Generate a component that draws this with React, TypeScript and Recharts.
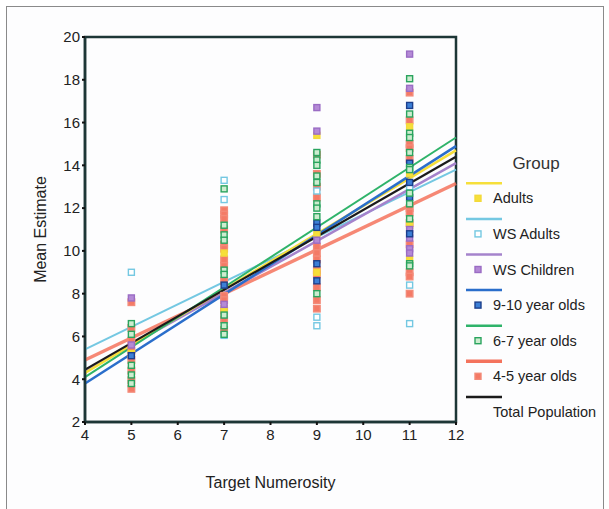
import React from 'react';
import { ScatterChart, Scatter, XAxis, YAxis, ReferenceLine, ReferenceArea, Legend } from 'recharts';

// group names as shown in the legend
const groupNames = ['Adults', 'WS Adults', 'WS Children', '9-10 year olds', '6-7 year olds', '4-5 year olds', 'Total Population'];

// regression fit values at x = 4 and x = 12
const fitAt4 = [4.3, 5.4, 4.4, 3.8, 4.1, 4.9, 4.45];
const fitAt12 = [14.7, 13.8, 14.1, 14.9, 15.3, 13.15, 14.4];

const xTicks = [4, 5, 6, 7, 8, 9, 10, 11, 12];
const yTicks = [2, 4, 6, 8, 10, 12, 14, 16, 18, 20];

// individual mean estimates per group
const adultsPts = [
  { x: 5, y: 5.2 }, { x: 7, y: 9.9 }, { x: 7, y: 7.3 },
  { x: 9, y: 15.4 }, { x: 9, y: 10.8 }, { x: 9, y: 9.0 },
  { x: 11, y: 15.8 }, { x: 11, y: 13.6 }, { x: 11, y: 9.6 }, { x: 11, y: 11.2 },
];
const wsAdultsPts = [
  { x: 5, y: 9.0 },
  { x: 7, y: 13.3 }, { x: 7, y: 12.4 }, { x: 7, y: 6.05 },
  { x: 9, y: 12.8 }, { x: 9, y: 6.9 }, { x: 9, y: 6.5 },
  { x: 11, y: 13.0 }, { x: 11, y: 8.4 }, { x: 11, y: 6.6 },
];
const wsChildrenPts = [
  { x: 5, y: 7.8 }, { x: 5, y: 5.6 },
  { x: 7, y: 7.5 },
  { x: 9, y: 16.7 }, { x: 9, y: 15.6 }, { x: 9, y: 10.5 },
  { x: 11, y: 19.2 }, { x: 11, y: 17.6 }, { x: 11, y: 11.0 }, { x: 11, y: 10.6 }, { x: 11, y: 10.1 }, { x: 11, y: 9.9 },
];
const nineTenPts = [
  { x: 5, y: 5.1 },
  { x: 7, y: 8.4 },
  { x: 9, y: 11.3 }, { x: 9, y: 11.1 }, { x: 9, y: 9.4 }, { x: 9, y: 8.6 },
  { x: 11, y: 16.8 }, { x: 11, y: 14.1 }, { x: 11, y: 13.2 }, { x: 11, y: 12.5 }, { x: 11, y: 10.8 },
];
const sixSevenPts = [
  { x: 5, y: 6.6 }, { x: 5, y: 6.1 }, { x: 5, y: 4.65 }, { x: 5, y: 4.2 }, { x: 5, y: 3.8 },
  { x: 7, y: 12.9 }, { x: 7, y: 11.2 }, { x: 7, y: 10.75 }, { x: 7, y: 10.5 }, { x: 7, y: 9.1 },
  { x: 7, y: 8.9 }, { x: 7, y: 7.0 }, { x: 7, y: 6.5 }, { x: 7, y: 6.1 },
  { x: 9, y: 14.6 }, { x: 9, y: 14.25 }, { x: 9, y: 14.0 }, { x: 9, y: 13.5 }, { x: 9, y: 13.2 },
  { x: 9, y: 12.2 }, { x: 9, y: 12.0 }, { x: 9, y: 11.6 }, { x: 9, y: 8.0 },
  { x: 11, y: 18.05 }, { x: 11, y: 16.4 }, { x: 11, y: 15.5 }, { x: 11, y: 15.3 }, { x: 11, y: 14.6 },
  { x: 11, y: 13.9 }, { x: 11, y: 13.8 }, { x: 11, y: 12.7 }, { x: 11, y: 12.2 }, { x: 11, y: 11.5 },
  { x: 11, y: 9.4 }, { x: 11, y: 9.3 },
];
const fourFivePts = [
  { x: 5, y: 7.6 }, { x: 5, y: 6.4 }, { x: 5, y: 5.8 }, { x: 5, y: 5.35 }, { x: 5, y: 4.9 },
  { x: 5, y: 4.4 }, { x: 5, y: 3.95 }, { x: 5, y: 3.55 },
  { x: 7, y: 11.9 }, { x: 7, y: 11.7 }, { x: 7, y: 11.5 }, { x: 7, y: 11.0 }, { x: 7, y: 10.3 },
  { x: 7, y: 10.1 }, { x: 7, y: 9.6 }, { x: 7, y: 9.3 }, { x: 7, y: 8.6 }, { x: 7, y: 7.9 },
  { x: 7, y: 7.7 }, { x: 7, y: 7.2 }, { x: 7, y: 6.8 }, { x: 7, y: 6.3 },
  { x: 9, y: 14.5 }, { x: 9, y: 13.6 }, { x: 9, y: 13.0 }, { x: 9, y: 12.5 }, { x: 9, y: 10.2 },
  { x: 9, y: 9.9 }, { x: 9, y: 9.6 }, { x: 9, y: 9.1 }, { x: 9, y: 8.9 }, { x: 9, y: 8.3 },
  { x: 9, y: 7.7 }, { x: 9, y: 7.3 },
  { x: 11, y: 17.4 }, { x: 11, y: 16.1 }, { x: 11, y: 15.0 }, { x: 11, y: 14.8 }, { x: 11, y: 14.3 },
  { x: 11, y: 12.0 }, { x: 11, y: 11.8 }, { x: 11, y: 11.3 }, { x: 11, y: 10.3 }, { x: 11, y: 9.0 },
  { x: 11, y: 8.8 }, { x: 11, y: 8.0 },
];

const groupPoints = [adultsPts, wsAdultsPts, wsChildrenPts, nineTenPts, sixSevenPts, fourFivePts];

// styling
const lineColors = ['#f6df3a', '#74c8e2', '#a583cc', '#2a6ecb', '#2fb36a', '#f4735d', '#1b1b1b'];
const lineWidths = [2.5, 2, 2.5, 2.5, 2, 3.5, 2.2];
const markerFill = ['#f6df3a', '#ffffff', '#b48ad6', '#3c7fd6', '#cdeccf', '#f47a66'];
const markerStroke = ['#f3d93a', '#74c8e2', '#9a6cc4', '#1c3f8c', '#2aa45e', '#f38a78'];
const lineOrder = [5, 1, 2, 0, 4, 3, 6];
const pointOrder = [5, 0, 1, 2, 3, 4];

const square = (fill: string, stroke: string, size: number) => (props: any) => {
  const { cx, cy } = props;
  if (cx == null || cy == null) return <g />;
  return <rect x={cx - size / 2} y={cy - size / 2} width={size} height={size} fill={fill} stroke={stroke} strokeWidth={1.4} />;
};

const font = 'Arial, "Liberation Sans", Helvetica, sans-serif';

function GroupLegend() {
  return (
    <svg width={149} height={290} style={{ display: 'block', fontFamily: font }}>
      <text x={76} y={23} fontSize={17} fill="#333" textAnchor="middle" dominantBaseline="central">Group</text>
      {groupNames.map((name, i) => {
        const ly = 43.3 + i * 35.6;
        const ty = 58.3 + i * 35.6;
        return (
          <g key={name}>
            <line x1={6} x2={42} y1={ly} y2={ly} stroke={lineColors[i]} strokeWidth={i === 5 ? 3.5 : 2.5} />
            {i < 6 && (
              <rect x={15} y={ty - 3} width={6} height={6} fill={markerFill[i]} stroke={markerStroke[i]} strokeWidth={1.4} />
            )}
            <text x={33} y={ty} fontSize={14.5} fill="#222" dominantBaseline="central">{name}</text>
          </g>
        );
      })}
    </svg>
  );
}

export default function App() {
  return (
    <div style={{ position: 'relative', width: 609, height: 509, background: '#fff', overflow: 'hidden', fontFamily: font }}>
      <style>{'body{margin:0}'}</style>
      <div style={{ position: 'absolute', left: 6, top: 6, width: 596, height: 520, border: '1.5px solid #8a8a8a', background: '#fdfdfe' }} />
      <div style={{ position: 'absolute', left: 0, top: 0 }}>
        <ScatterChart width={609} height={509} margin={{ top: 37, right: 153, bottom: 17, left: 35 }}>
          <XAxis
            type="number"
            dataKey="x"
            domain={[4, 12]}
            ticks={xTicks}
            interval={0}
            allowDecimals={false}
            height={70}
            axisLine={{ stroke: '#1d3636', strokeWidth: 2.5 }}
            tickLine={{ stroke: '#111', strokeWidth: 2 }}
            tickSize={3}
            tickMargin={4}
            tick={{ fontSize: 15, fill: '#222', fontFamily: font }}
            label={{ value: 'Target Numerosity', position: 'insideBottom', offset: 4, fontSize: 16, fill: '#222', fontFamily: font }}
          />
          <YAxis
            type="number"
            dataKey="y"
            domain={[2, 20]}
            ticks={yTicks}
            interval={0}
            width={50}
            axisLine={{ stroke: '#1d3636', strokeWidth: 2.5 }}
            tickLine={{ stroke: '#111', strokeWidth: 2 }}
            tickSize={3}
            tickMargin={2}
            tick={{ fontSize: 15, fill: '#222', fontFamily: font }}
            label={{ value: 'Mean Estimate', angle: -90, position: 'insideLeft', offset: 5, fontSize: 16, fill: '#222', fontFamily: font, style: { textAnchor: 'middle' } }}
          />
          <ReferenceArea x1={4} x2={12} y1={2} y2={20} fill="none" stroke="#1d3636" strokeWidth={2.5} ifOverflow="visible" />
          {pointOrder.map((i) => (
            <Scatter
              key={groupNames[i]}
              name={groupNames[i]}
              data={groupPoints[i]}
              isAnimationActive={false}
              legendType="none"
              shape={square(markerFill[i], markerStroke[i], i === 5 ? 6.5 : 6)}
            />
          ))}
          {lineOrder.map((i) => (
            <ReferenceLine
              key={'fit-' + i}
              segment={[{ x: 4, y: fitAt4[i] }, { x: 12, y: fitAt12[i] }]}
              stroke={lineColors[i]}
              strokeWidth={lineWidths[i]}
              strokeOpacity={i === 5 ? 0.85 : 1}
              ifOverflow="visible"
            />
          ))}
          <Legend
            layout="horizontal"
            verticalAlign="middle"
            align="center"
            content={() => <GroupLegend />}
            wrapperStyle={{ position: 'absolute', left: 460, top: 140, width: 149, height: 290 }}
          />
        </ScatterChart>
      </div>
    </div>
  );
}
